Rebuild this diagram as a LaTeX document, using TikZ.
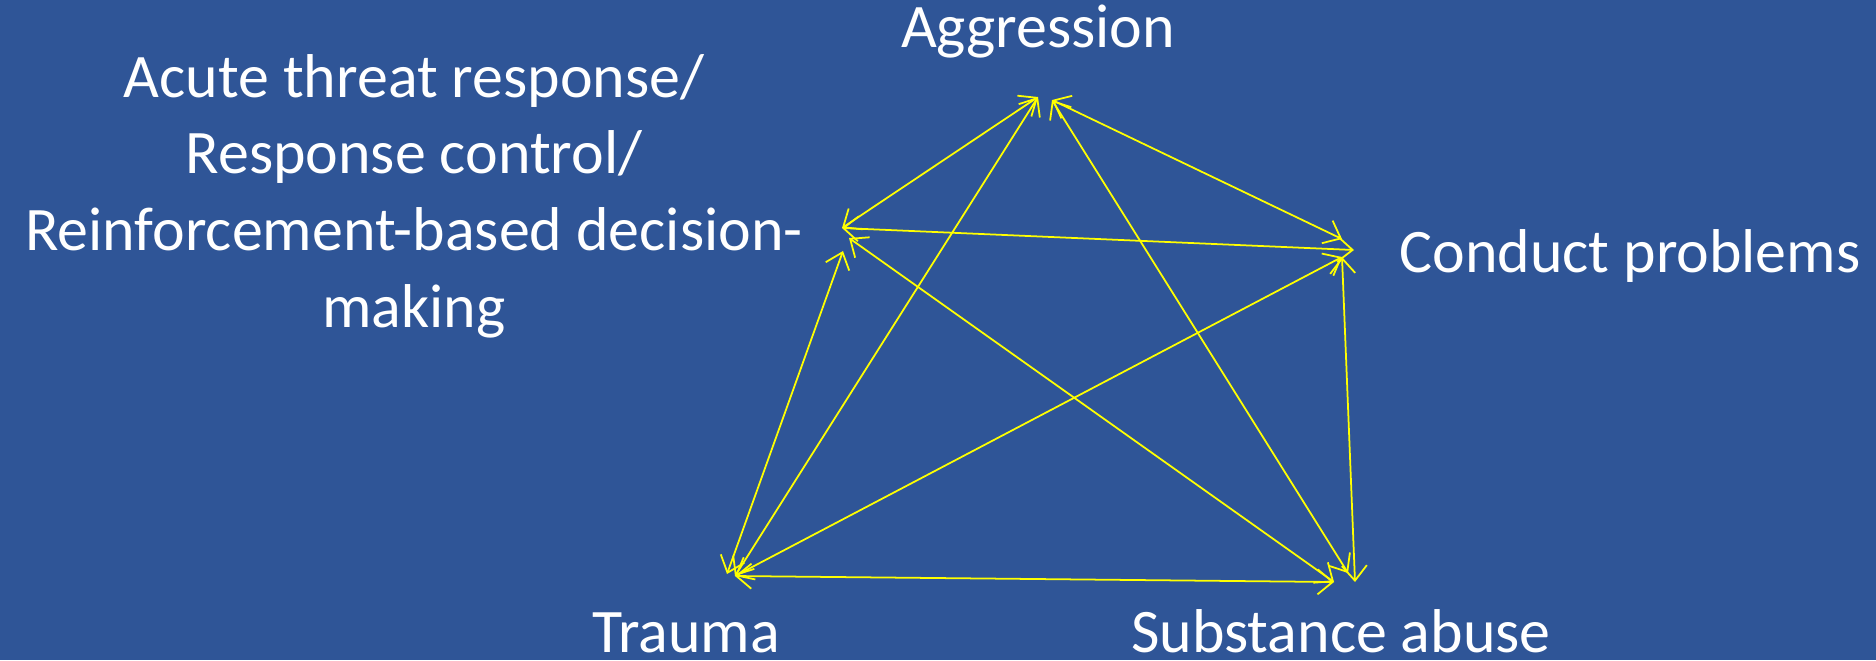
\documentclass[tikz,border=0pt]{standalone}
\usepackage{fontspec}
\setmainfont{Carlito}
\usetikzlibrary{arrows.meta}
\definecolor{slideblue}{HTML}{2F5597}
\definecolor{linkyellow}{HTML}{FFFF00}
\tikzset{
  label text/.style={text=white, inner sep=0pt, anchor=base,
    font=\fontsize{17.6pt}{21pt}\selectfont},
  link/.style={draw=linkyellow, line width=0.5pt,
    {Straight Barb[length=1.5mm,width=2.5mm]}-{Straight Barb[length=1.5mm,width=2.5mm]}},
}
\begin{document}
\begin{tikzpicture}[x=0.01cm, y=-0.01cm]
  % slide background
  \fill[slideblue] (0,0) rectangle (1876,660);
  \useasboundingbox (0,0) rectangle (1876,660);

  % labels
  \node[label text] (aggr) at (1038,47) {Aggression};
  \node[label text] (acute1) at (414,97) {Acute threat response/};
  \node[label text] (acute2) at (414,173) {Response control/};
  \node[label text] (acute3) at (414,250) {Reinforcement-based decision-};
  \node[label text] (acute4) at (414,327) {making};
  \node[label text] (cond) at (1630,272) {Conduct problems};
  \node[label text, text depth=0pt] (trauma) at (686,652) {Trauma};
  \node[label text, text depth=0pt] (subst) at (1341,652) {Substance abuse};

  % connection points of each concept
  \coordinate (a1) at (1038,97);
  \coordinate (a2) at (1052,100);
  \coordinate (r1) at (842,228);
  \coordinate (r2) at (849,238);
  \coordinate (r3) at (843,251);
  \coordinate (c1) at (1342,239);
  \coordinate (c2) at (1354,250);
  \coordinate (c3) at (1342,257);
  \coordinate (t1) at (727,574);
  \coordinate (t2) at (735,576);
  \coordinate (s1) at (1334,582);
  \coordinate (s2) at (1348,573);
  \coordinate (s3) at (1355,582);

  % mutual influences
  \draw[link] (a1) -- (r1);
  \draw[link] (a1) -- (t2);
  \draw[link] (a2) -- (c1);
  \draw[link] (a2) -- (s2);
  \draw[link] (r1) -- (c2);
  \draw[link] (r2) -- (s1);
  \draw[link] (r3) -- (t1);
  \draw[link] (c3) -- (t2);
  \draw[link] (c3) -- (s3);
  \draw[link] (t2) -- (s1);
\end{tikzpicture}
\end{document}
